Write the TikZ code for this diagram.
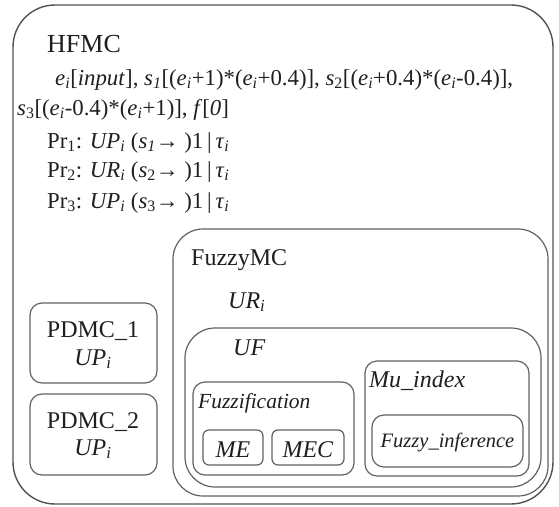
\documentclass[tikz,border=0pt]{standalone}
\usepackage{fontspec}
\setmainfont{Liberation Serif}
\newcommand\myei{\textit{e}\textsubscript{\textit{i}}}
\newcommand\mysub[2]{\textit{#1}\textsubscript{\textit{#2}}}
\begin{document}
\begin{tikzpicture}[x=1pt,y=-1pt,
  box/.style={draw=black!62,line width=1.2pt},
  txt/.style={anchor=base west,inner sep=0pt,text=black!88},
  ctxt/.style={anchor=base,inner sep=0pt,text=black!88,align=center}]
\useasboundingbox (0,0) rectangle (559,506);
% boxes
\draw[box,line width=1.4pt,draw=black!68,rounded corners=42pt] (13,5) rectangle (553,504);
\draw[box,rounded corners=30pt] (173,229) rectangle (548,496);
\draw[box,rounded corners=12pt] (30,303) rectangle (157,383);
\draw[box,rounded corners=12pt] (30,394) rectangle (157,475);
\draw[box,rounded corners=30pt] (185,328) rectangle (541,487);
\draw[box,rounded corners=12pt] (193,382) rectangle (354,475);
\draw[box,rounded corners=6pt] (203,430) rectangle (263,465);
\draw[box,rounded corners=6pt] (272,430) rectangle (344,465);
\draw[box,rounded corners=12pt] (365,361) rectangle (529,476);
\draw[box,rounded corners=12pt] (372,415) rectangle (523,467);
% texts
\node[txt,font=\fontsize{26}{30}\selectfont] (hfmc) at (47,52) {HFMC};
\begin{scope}[every node/.append style={font=\fontsize{22.8}{26}\selectfont}]
\node[txt] (l1) at (55,85) {\myei[\textit{input}], \mysub{s}{1}[(\myei+1)*(\myei+0.4)], \textit{s}\textsubscript{2}[(\myei+0.4)*(\myei-0.4)],};
\node[txt] (l2) at (17,115) {\textit{s}\textsubscript{3}[(\myei-0.4)*(\myei+1)], \textit{f}[\textit{0}]};
\node[txt] (p1) at (47,148) {Pr\textsubscript{1}: \mysub{UP}{i} (\mysub{s}{1}→\ )1\,|\,\mysub{τ}{i}};
\node[txt] (p2) at (47,177) {Pr\textsubscript{2}: \mysub{UR}{i} (\textit{s}\textsubscript{2}→\ )1\,|\,\mysub{τ}{i}};
\node[txt] (p3) at (47,208) {Pr\textsubscript{3}: \mysub{UP}{i} (\textit{s}\textsubscript{3}→\ )1\,|\,\mysub{τ}{i}};
\end{scope}
\begin{scope}[every node/.append style={font=\fontsize{24}{28}\selectfont}]
\node[txt] (fmc) at (191,265) {FuzzyMC};
\node[txt] (ur) at (228,308) {\mysub{UR}{i}};
\node[ctxt] (pd1) at (93,337) {PDMC\_1};
\node[ctxt] (up1) at (93,365) {\mysub{UP}{i}};
\node[ctxt] (pd2) at (93,428) {PDMC\_2};
\node[ctxt] (up2) at (93,455) {\mysub{UP}{i}};
\node[txt] (uf) at (233,355) {\textit{UF}};
\node[txt] (mu) at (369,387) {\textit{Mu\_index}};
\node[ctxt] (me) at (233,457) {\textit{ME}};
\node[ctxt] (mec) at (308,457) {\textit{MEC}};
\end{scope}
\node[txt,font=\fontsize{21.5}{25}\selectfont] (fz) at (198,408) {\textit{Fuzzification}};
\node[ctxt,font=\fontsize{20.5}{24}\selectfont] (fi) at (447.5,447) {\textit{Fuzzy\_inference}};
\end{tikzpicture}
\end{document}
